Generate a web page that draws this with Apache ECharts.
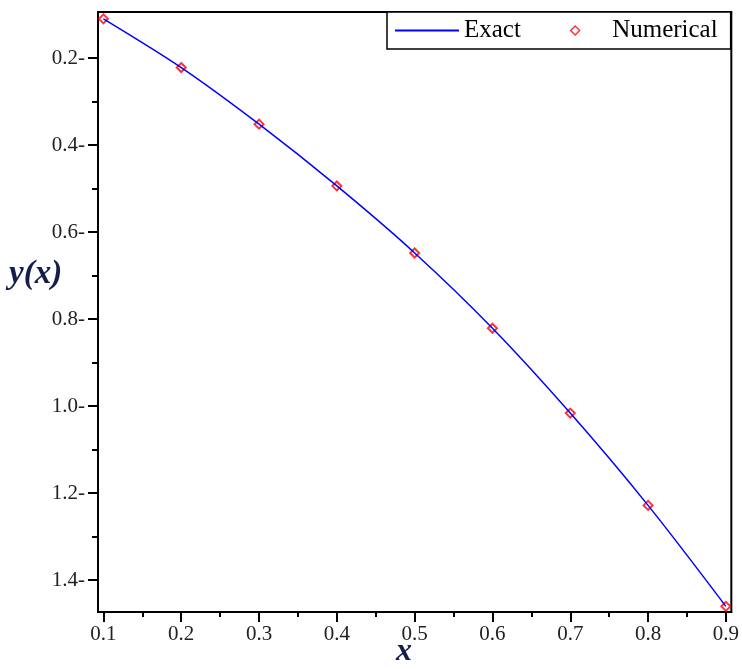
<!DOCTYPE html>
<html>
<head>
<meta charset="utf-8">
<script src="https://cdn.jsdelivr.net/npm/echarts@6/dist/echarts.min.js"></script>
<style>
html,body{margin:0;padding:0;background:#fff;}
#main{width:742px;height:669px;}
</style>
</head>
<body>
<div id="main"></div>
<script>
// data
var xValues = [0.1, 0.2, 0.3, 0.4, 0.5, 0.6, 0.7, 0.8, 0.9];
var exactValues = [0.110, 0.222, 0.352, 0.494, 0.648, 0.821, 1.016, 1.228, 1.460];
var numericalValues = [0.110, 0.222, 0.352, 0.494, 0.648, 0.821, 1.016, 1.228, 1.460];
var xLabelTicks = [0.1, 0.2, 0.3, 0.4, 0.5, 0.6, 0.7, 0.8, 0.9];
var xMinorTicks = [0.15, 0.25, 0.35, 0.45, 0.55, 0.65, 0.75, 0.85];
var yLabelTicks = [0.2, 0.4, 0.6, 0.8, 1.0, 1.2, 1.4];
var yMinorTicks = [0.3, 0.5, 0.7, 0.9, 1.1, 1.3];

function pairs(xs, ys) {
    var out = [];
    for (var i = 0; i < xs.length; i++) out.push([xs[i], ys[i]]);
    return out;
}

var serif = 'Liberation Serif';
var xMin = 0.093, xMax = 0.907;
var yMin = 0.0943, yMax = 1.473;

var option = {
    animation: false,
    backgroundColor: '#fff',
    grid: {
        left: 98, right: 10, top: 12, bottom: 57,
        show: true, borderColor: '#000', borderWidth: 2
    },
    legend: {
        left: 387, top: 12,
        padding: [6, 13, 6, 8],
        itemGap: 49,
        itemWidth: 64,
        itemHeight: 9,
        symbolKeepAspect: true,
        backgroundColor: '#fff',
        borderColor: '#000',
        borderWidth: 1.5,
        textStyle: { fontFamily: serif, fontSize: 25, color: '#000' },
        data: [
            { name: 'Exact', icon: 'path://M0,0 L64,0 L64,2 L0,2 Z' },
            {
                name: 'Numerical', icon: 'path://M4,0 L8,4 L4,8 L0,4 Z',
                itemStyle: { color: '#fff', borderColor: '#ff0000', borderWidth: 1.5 }
            }
        ]
    },
    xAxis: [
        {
            type: 'value', min: xMin, max: xMax,
            splitLine: { show: false },
            axisLine: { show: true, lineStyle: { color: '#000', width: 2 } },
            axisTick: { show: true, customValues: xLabelTicks, length: 10, lineStyle: { color: '#000', width: 2 } },
            axisLabel: {
                customValues: xLabelTicks, margin: 12,
                fontFamily: serif, fontSize: 21, color: '#222',
                formatter: function (v) { return v.toFixed(1); }
            }
        },
        {
            type: 'value', min: xMin, max: xMax, position: 'bottom',
            splitLine: { show: false },
            axisLine: { show: false },
            axisTick: { show: true, customValues: xMinorTicks, length: 5, lineStyle: { color: '#000', width: 2 } },
            axisLabel: { show: false }
        }
    ],
    yAxis: [
        {
            type: 'value', min: yMin, max: yMax, inverse: true,
            splitLine: { show: false },
            axisLine: { show: true, lineStyle: { color: '#000', width: 2 } },
            axisTick: { show: true, customValues: yLabelTicks, length: 10, lineStyle: { color: '#000', width: 2 } },
            axisLabel: {
                customValues: yLabelTicks, margin: 13,
                fontFamily: serif, fontSize: 21, color: '#222',
                formatter: function (v) { return v.toFixed(1) + '-'; }
            }
        },
        {
            type: 'value', min: yMin, max: yMax, inverse: true, position: 'left',
            splitLine: { show: false },
            axisLine: { show: false },
            axisTick: { show: true, customValues: yMinorTicks, length: 6, lineStyle: { color: '#000', width: 2 } },
            axisLabel: { show: false }
        }
    ],
    graphic: [
        {
            type: 'text', left: 9, top: 258,
            style: { text: 'y(x)', font: 'italic bold 33px "Liberation Serif"', fill: '#141e4a' }
        },
        {
            type: 'text', left: 396, top: 636,
            style: { text: 'x', font: 'italic bold 32px "Liberation Serif"', fill: '#141e4a' }
        }
    ],
    series: [
        {
            name: 'Exact', type: 'line', smooth: 0.3,
            showSymbol: false, symbol: 'none',
            xAxisIndex: 0, yAxisIndex: 0,
            lineStyle: { color: '#0000ff', width: 1.5 },
            itemStyle: { color: '#0000ff' },
            data: pairs(xValues, exactValues)
        },
        {
            name: 'Numerical', type: 'scatter',
            symbol: 'emptyDiamond', symbolSize: 9,
            xAxisIndex: 0, yAxisIndex: 0,
            itemStyle: { color: '#ff0000', borderColor: '#ff0000', borderWidth: 1.2 },
            data: pairs(xValues, numericalValues)
        }
    ]
};

echarts.init(document.getElementById('main')).setOption(option);
</script>
</body>
</html>
